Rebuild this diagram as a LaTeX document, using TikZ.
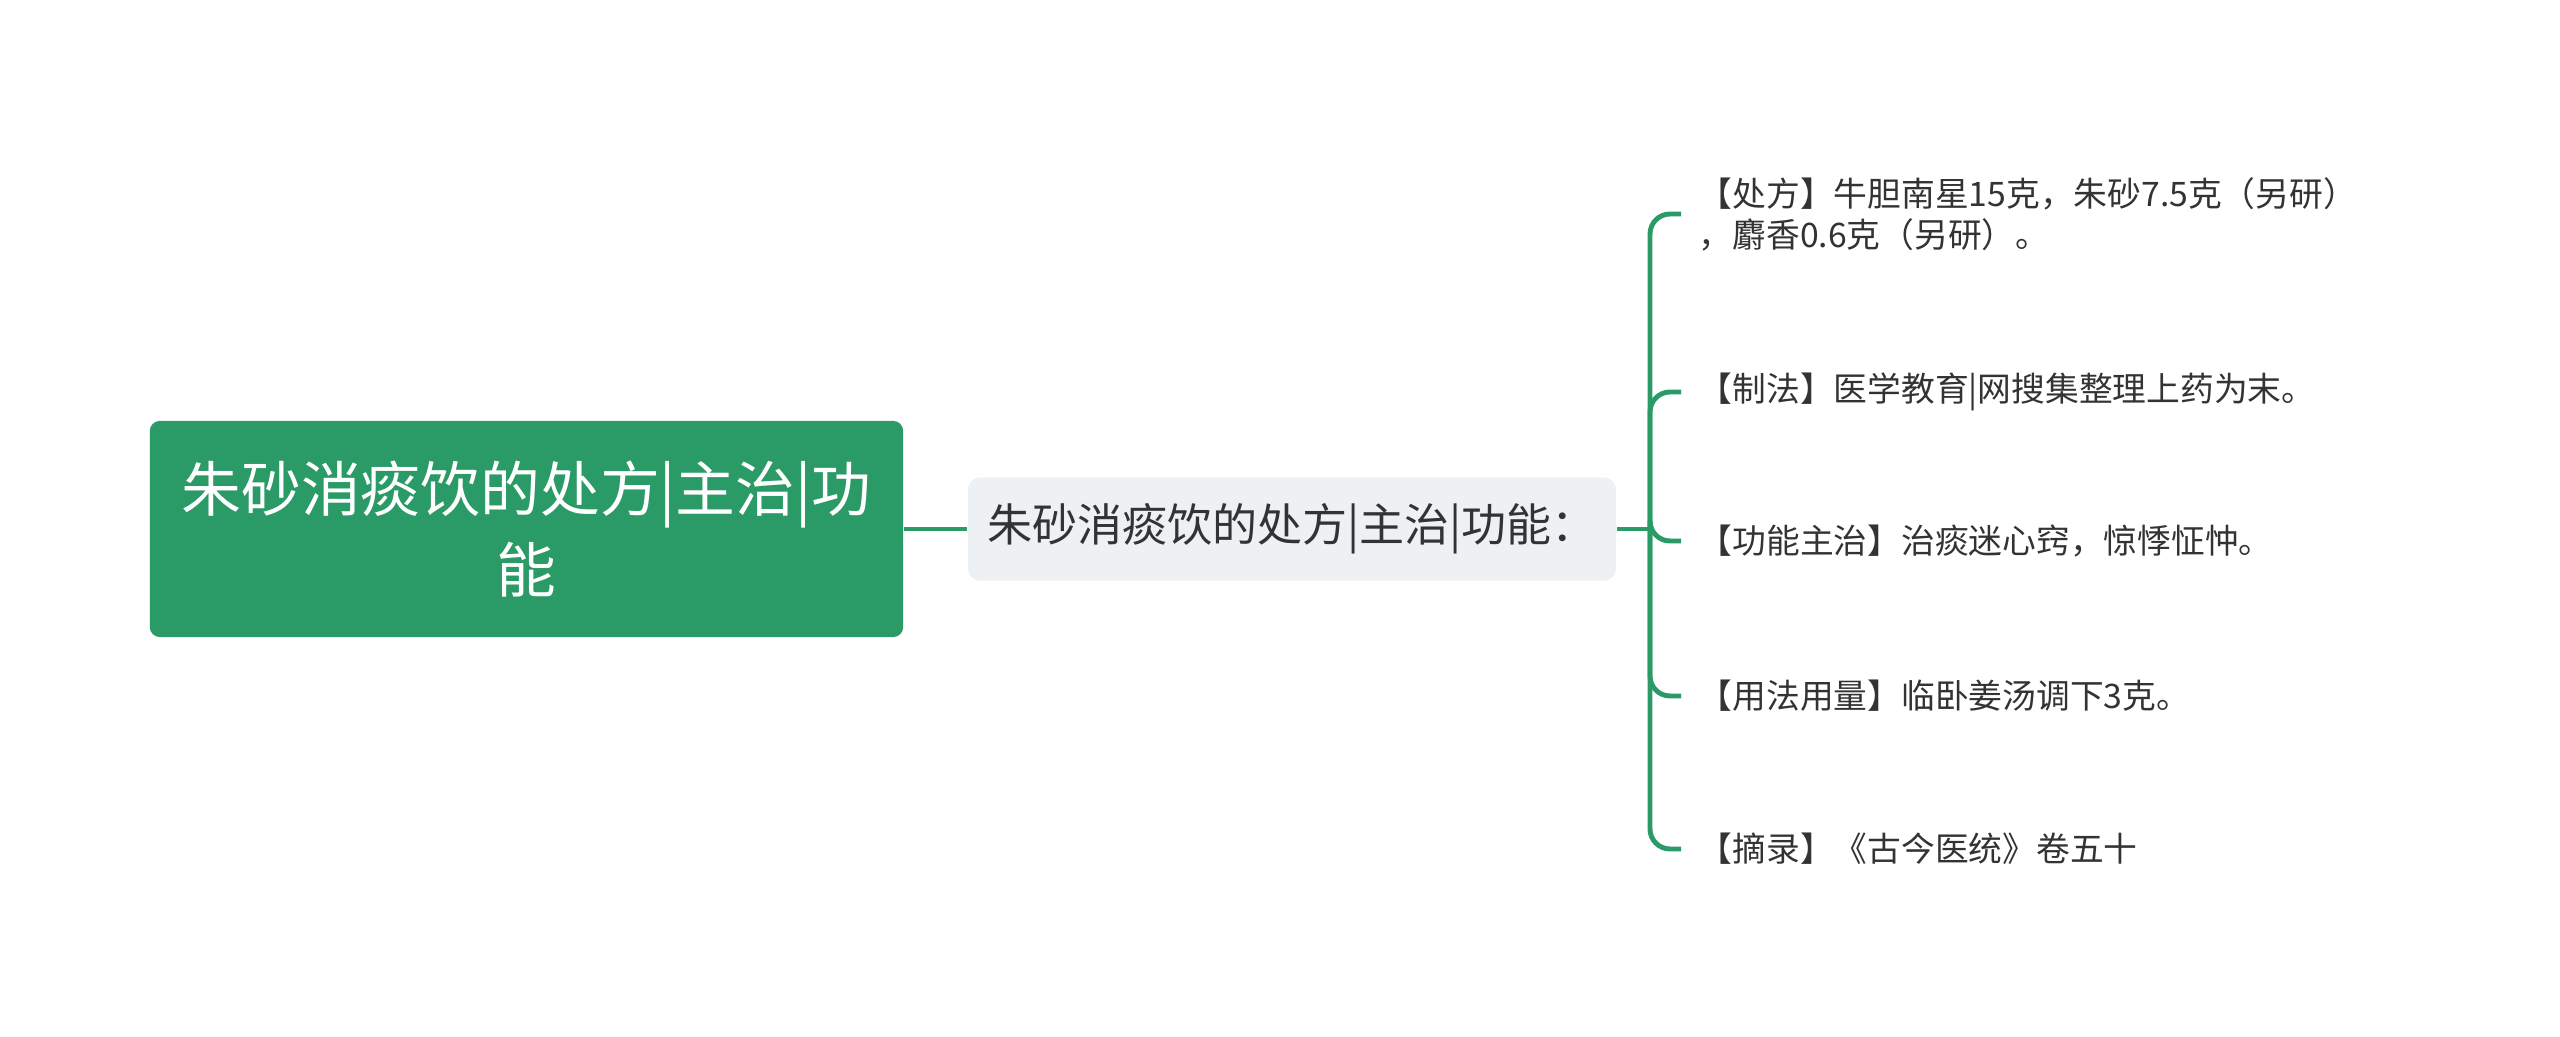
\documentclass[tikz,border=0pt]{standalone}
\usepackage{fontspec}
\setmainfont{Noto Sans CJK SC}
\definecolor{mapgreen}{HTML}{2A9A66}
\definecolor{midfill}{HTML}{EEF1F4}
\definecolor{inkgray}{HTML}{333333}
\tikzset{
  rootbox/.style={fill=mapgreen,rounded corners=0.1cm,text=white,align=center,
    minimum width=7.53cm,minimum height=2.16cm,font=\fontsize{17}{23}\selectfont},
  midbox/.style={fill=midfill,rounded corners=0.12cm,text=inkgray,
    minimum width=6.48cm,minimum height=1.03cm,font=\fontsize{12.8}{15}\selectfont},
  leaftext/.style={anchor=west,inner xsep=0.17cm,inner ysep=0pt,align=left,text=inkgray,
    font=\fontsize{9.6}{11.7}\selectfont},
  link/.style={draw=mapgreen,line width=1.4pt}
}
\begin{document}
\begin{tikzpicture}[x=0.01cm,y=-0.01cm]
\useasboundingbox (0,0) rectangle (2560,1037);
\node [rootbox] (root) at (526.5,529) {朱砂消痰饮的处方|主治|功\\能};
\node [midbox] (mid) at (1292,529) {朱砂消痰饮的处方|主治|功能：};
\coordinate (fork) at (1650,529);
\node [leaftext] (dose) at (1681,214) {【处方】牛胆南星15克，朱砂7.5克（另研）\\，麝香0.6克（另研）。};
\node [leaftext] (prep) at (1681,392) {【制法】医学教育|网搜集整理上药为末。};
\node [leaftext] (use) at (1681,541) {【功能主治】治痰迷心窍，惊悸怔忡。};
\node [leaftext] (usage) at (1681,696) {【用法用量】临卧姜汤调下3克。};
\node [leaftext] (src) at (1681,849) {【摘录】《古今医统》卷五十};
\draw [link] (root.east) -- (mid.west);
\draw [link] (mid.east) -- (fork);
\foreach \leaf in {dose,prep,use,usage,src}
  \draw [link,rounded corners=0.2cm] (fork) |- (\leaf.west);
\end{tikzpicture}
\end{document}
